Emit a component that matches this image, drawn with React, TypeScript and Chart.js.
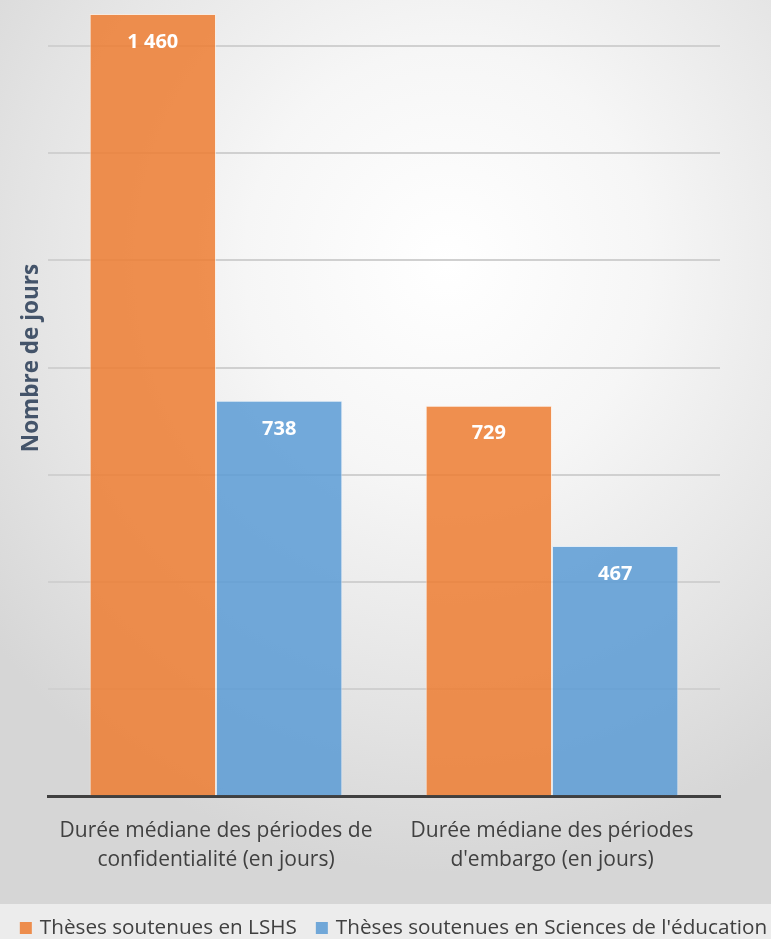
import React, { useEffect, useRef } from "react";
import { Chart, registerables } from "chart.js";

Chart.register(...registerables);

const categories: string[][] = [
  ["Durée médiane des périodes de", "confidentialité (en jours)"],
  ["Durée médiane des périodes", "d'embargo (en jours)"],
];
const seriesNames = ["Thèses soutenues en LSHS", "Thèses soutenues en Sciences de l'éducation"];
const lshsValues = [1460, 729];
const educValues = [738, 467];
const yTitle = "Nombre de jours";

const FONT = "'Open Sans', Lato, sans-serif";
const COLORS = ["rgba(237,125,49,0.85)", "rgba(91,155,213,0.85)"];

const fmt = (v: number) => String(v).replace(/\B(?=(\d{3})+(?!\d))/g, " ");

const valueLabels = {
  id: "valueLabels",
  afterDatasetsDraw(chart: any) {
    const ctx = chart.ctx;
    ctx.save();
    ctx.fillStyle = "#ffffff";
    ctx.font = `bold 20px ${FONT}`;
    ctx.textAlign = "center";
    ctx.textBaseline = "middle";
    chart.data.datasets.forEach((ds: any, i: number) => {
      const meta = chart.getDatasetMeta(i);
      meta.data.forEach((bar: any, j: number) => {
        ctx.fillText(fmt(ds.data[j]), bar.x, bar.y + 28);
      });
    });
    ctx.restore();
  },
};

const extras = {
  id: "extras",
  afterDraw(chart: any) {
    const ctx = chart.ctx;
    ctx.save();
    // y-axis title
    ctx.fillStyle = "#44546A";
    ctx.font = `bold 22.5px ${FONT}`;
    ctx.textAlign = "center";
    ctx.textBaseline = "middle";
    ctx.translate(32, 358);
    ctx.rotate(-Math.PI / 2);
    ctx.fillText(yTitle, 0, 0);
    ctx.restore();

    // legend
    ctx.save();
    ctx.font = `20.7px ${FONT}`;
    ctx.textBaseline = "middle";
    ctx.textAlign = "left";
    const box = 12;
    const gapBoxText = 8;
    const gapItems = 19;
    const widths = chart.data.datasets.map((d: any) => ctx.measureText(d.label).width);
    const total =
      widths.reduce((a: number, w: number) => a + box + gapBoxText + w, 0) + gapItems * (widths.length - 1);
    let x = (chart.width - total) / 2 + 8;
    const y = 928;
    chart.data.datasets.forEach((d: any, i: number) => {
      ctx.fillStyle = d.backgroundColor;
      ctx.fillRect(x, y - box / 2, box, box);
      x += box + gapBoxText;
      ctx.fillStyle = "#404040";
      ctx.fillText(d.label, x, y);
      x += widths[i] + gapItems;
    });
    ctx.restore();
  },
};

export default function App() {
  const ref = useRef<HTMLCanvasElement | null>(null);
  useEffect(() => {
    if (!ref.current) return;
    const chart = new Chart(ref.current, {
      type: "bar",
      data: {
        labels: categories,
        datasets: [
          {
            label: seriesNames[0],
            data: lshsValues,
            backgroundColor: COLORS[0],
            borderColor: "rgba(255,235,220,0.7)",
            borderWidth: 1,
            categoryPercentage: 0.752,
            barPercentage: 1,
          },
          {
            label: seriesNames[1],
            data: educValues,
            backgroundColor: COLORS[1],
            borderColor: "rgba(220,235,250,0.7)",
            borderWidth: 1,
            categoryPercentage: 0.752,
            barPercentage: 1,
          },
        ],
      },
      options: {
        animation: false,
        responsive: false,
        layout: { padding: { top: 0, left: 48, right: 51, bottom: 52 } },
        plugins: {
          legend: { display: false },
          tooltip: { enabled: false },
        },
        scales: {
          x: {
            grid: { display: false },
            border: { display: true, color: "#404040", width: 3 },
            ticks: {
              color: "#404040",
              font: { family: FONT, size: 21, lineHeight: 1.35 },
              padding: 13,
            },
          },
          y: {
            min: 0,
            max: 1486,
            border: { display: false },
            grid: {
              color: (c: any) =>
                c.tick && c.tick.value > 0 && c.tick.value % 200 === 0 ? "#d0d0d0" : "rgba(0,0,0,0)",
              lineWidth: 2,
              drawTicks: false,
            },
            ticks: { display: false, stepSize: 200 },
            title: { display: false },
          },
        },
      },
      plugins: [valueLabels, extras],
    });
    return () => chart.destroy();
  }, []);
  return (
    <div
      style={{
        position: "fixed",
        left: 0,
        top: 0,
        width: 771,
        height: 939,
        overflow: "hidden",
        background:
          "radial-gradient(ellipse 75% 65% at 58% 28%, #ffffff 0%, #f6f6f6 35%, #e3e3e3 75%, #d6d6d6 100%)",
      }}
    >
      <div
        style={{ position: "absolute", left: 0, top: 904, width: 771, height: 35, background: "#ececec" }}
      />
      <canvas ref={ref} width={771} height={939} style={{ position: "absolute", left: 0, top: 0 }} />
    </div>
  );
}
